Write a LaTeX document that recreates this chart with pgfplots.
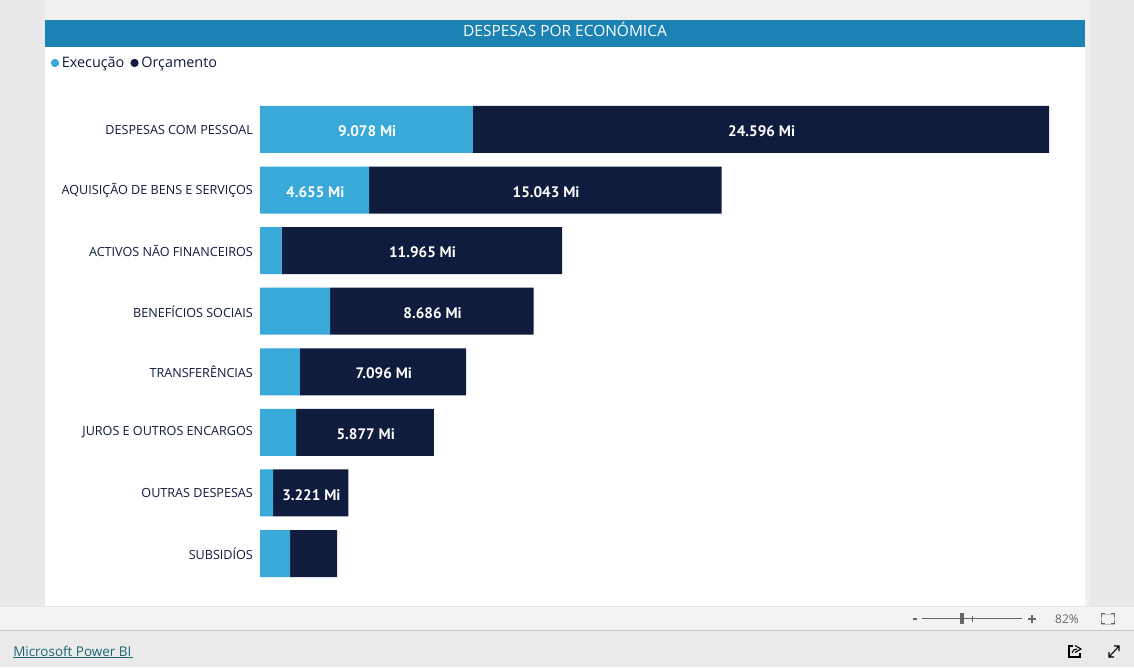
\documentclass[border=0pt]{standalone}
\usepackage{fontspec}
\usepackage{pgfplots}
\usepackage{pgfplotstable}
\pgfplotsset{compat=1.18}
\setmainfont{Open Sans}
\newfontfamily\dinfont{PT Sans}

\definecolor{execucao}{HTML}{38A9D9}
\definecolor{orcamento}{HTML}{0F1C3D}
\definecolor{cabecalho}{HTML}{1B82B4}
\definecolor{fundo}{HTML}{E9E9E9}
\definecolor{tela}{HTML}{F0F0F0}
\definecolor{estado}{HTML}{F3F3F3}
\definecolor{rodape}{HTML}{EAEAEA}
\definecolor{ligacao}{HTML}{1A6670}
\definecolor{zoomcinza}{HTML}{666666}

\pgfplotstableread[col sep=comma]{
pos,exec,orc,labexec,laborc
0,9078,24596,9.078 Mi,24.596 Mi
1,4655,15043,4.655 Mi,15.043 Mi
2,920,11965,,11.965 Mi
3,2990,8686,,8.686 Mi
4,1700,7096,,7.096 Mi
5,1540,5877,,5.877 Mi
6,550,3221,,3.221 Mi
7,1280,2010,,
}\despesas

\begin{document}
\begin{tikzpicture}[x=0.75pt,y=0.75pt]
  \useasboundingbox (0,0) rectangle (1134,667);
  % moldura do relatorio, coordenadas em px a contar de baixo
  \fill[fundo] (0,0) rectangle (1134,667);
  \fill[tela] (45,60) rectangle (1089,667);
  \fill[white] (45,60) rectangle (1085,620);
  \fill[cabecalho] (45,620) rectangle (1085,647);
  \node[text=white,font=\fontsize{11.6}{13}\selectfont] at (565,637.5) {DESPESAS POR ECONÓMICA};
  \fill[estado] (0,37) rectangle (1134,60);
  \fill[black!10] (0,59.5) rectangle (1134,61);
  \fill[black!22] (0,36) rectangle (1134,37.2);
  \fill[rodape] (0,0) rectangle (1134,36);

  \begin{axis}[
      at={(195.1pt,62.4pt)}, anchor=south west,
      scale only axis,
      width=618.4pt, height=363.45pt,
      xbar stacked, bar width=35.25pt,
      y dir=reverse,
      xmin=0, xmax=35190, ymin=-0.5, ymax=7.5,
      axis line style={draw=none},
      xtick=\empty, ytick={0,...,7},
      major tick length=0pt,
      yticklabels={DESPESAS COM PESSOAL,AQUISIÇÃO DE BENS E SERVIÇOS,ACTIVOS NÃO FINANCEIROS,BENEFÍCIOS SOCIAIS,TRANSFERÊNCIAS,JUROS E OUTROS ENCARGOS,OUTRAS DESPESAS,SUBSIDÍOS},
      y tick label style={font=\fontsize{9.45}{11}\selectfont,text=orcamento,inner sep=0pt,xshift=-5.25pt},
      point meta=explicit symbolic,
      nodes near coords,
      every node near coord/.append style={font=\dinfont\bfseries\fontsize{11.4}{13}\selectfont,text=white,xshift=0.5pt,yshift=-1.4pt},
      legend style={at={(-0.2541,1.0748)},anchor=west,draw=none,fill=none,inner sep=0pt,
        legend columns=2,font=\fontsize{10.8}{13}\selectfont,text=orcamento,
        /tikz/column 2/.style={column sep=2.5pt}},
      legend image code/.code={\fill[#1] (0pt,0pt) circle (3.1pt);},
    ]
    \addplot[fill=execucao,draw=none] table[col sep=comma,x=exec,y=pos,meta=labexec] {\despesas};
    \addplot[fill=orcamento,draw=none] table[col sep=comma,x=orc,y=pos,meta=laborc] {\despesas};
    \legend{Execução,Orçamento}
  \end{axis}

  % barra de zoom e ligacao
  \node[text=ligacao,font=\fontsize{10.1}{12}\selectfont,anchor=west,inner sep=0pt] at (13,16) {Microsoft Power BI};
  \draw[ligacao,line width=0.75pt] (13,9.5) -- (133,9.5);
  \draw[zoomcinza,line width=0.75pt] (922,48) -- (1022,48);
  \draw[zoomcinza,line width=0.75pt] (972,45) -- (972,51);
  \fill[zoomcinza] (960,42.5) rectangle (964,53.5);
  \draw[zoomcinza,line width=1pt] (913,48) -- (917,48);
  \draw[zoomcinza,line width=1pt] (1028,48) -- (1036,48) (1032,44) -- (1032,52);
  \node[text=zoomcinza,font=\fontsize{9}{11}\selectfont] at (1067,48) {82\%};
  \draw[black!25,line width=0.5pt] (1101.5,43) rectangle (1114.5,53);
  \draw[zoomcinza,line width=0.75pt] (1101.5,46) -- (1101.5,43) -- (1105,43) (1111,43) -- (1114.5,43) -- (1114.5,46) (1114.5,50) -- (1114.5,53) -- (1111,53) (1105,53) -- (1101.5,53) -- (1101.5,50);
  % icones de partilha e ecra inteiro
  \draw[black,line width=0.8pt] (1073,21) -- (1069,21) -- (1069,10) -- (1080,10) -- (1080,14);
  \draw[black,line width=0.8pt] (1072,14) .. controls (1072,17) and (1075,18) .. (1077,18) (1075,21.5) -- (1081,18) -- (1075,14.5);
  \draw[black,line width=0.8pt] (1109,10) -- (1119,21) (1109,15) -- (1109,10) -- (1114,10) (1114,21) -- (1119,21) -- (1119,16);
\end{tikzpicture}
\end{document}
